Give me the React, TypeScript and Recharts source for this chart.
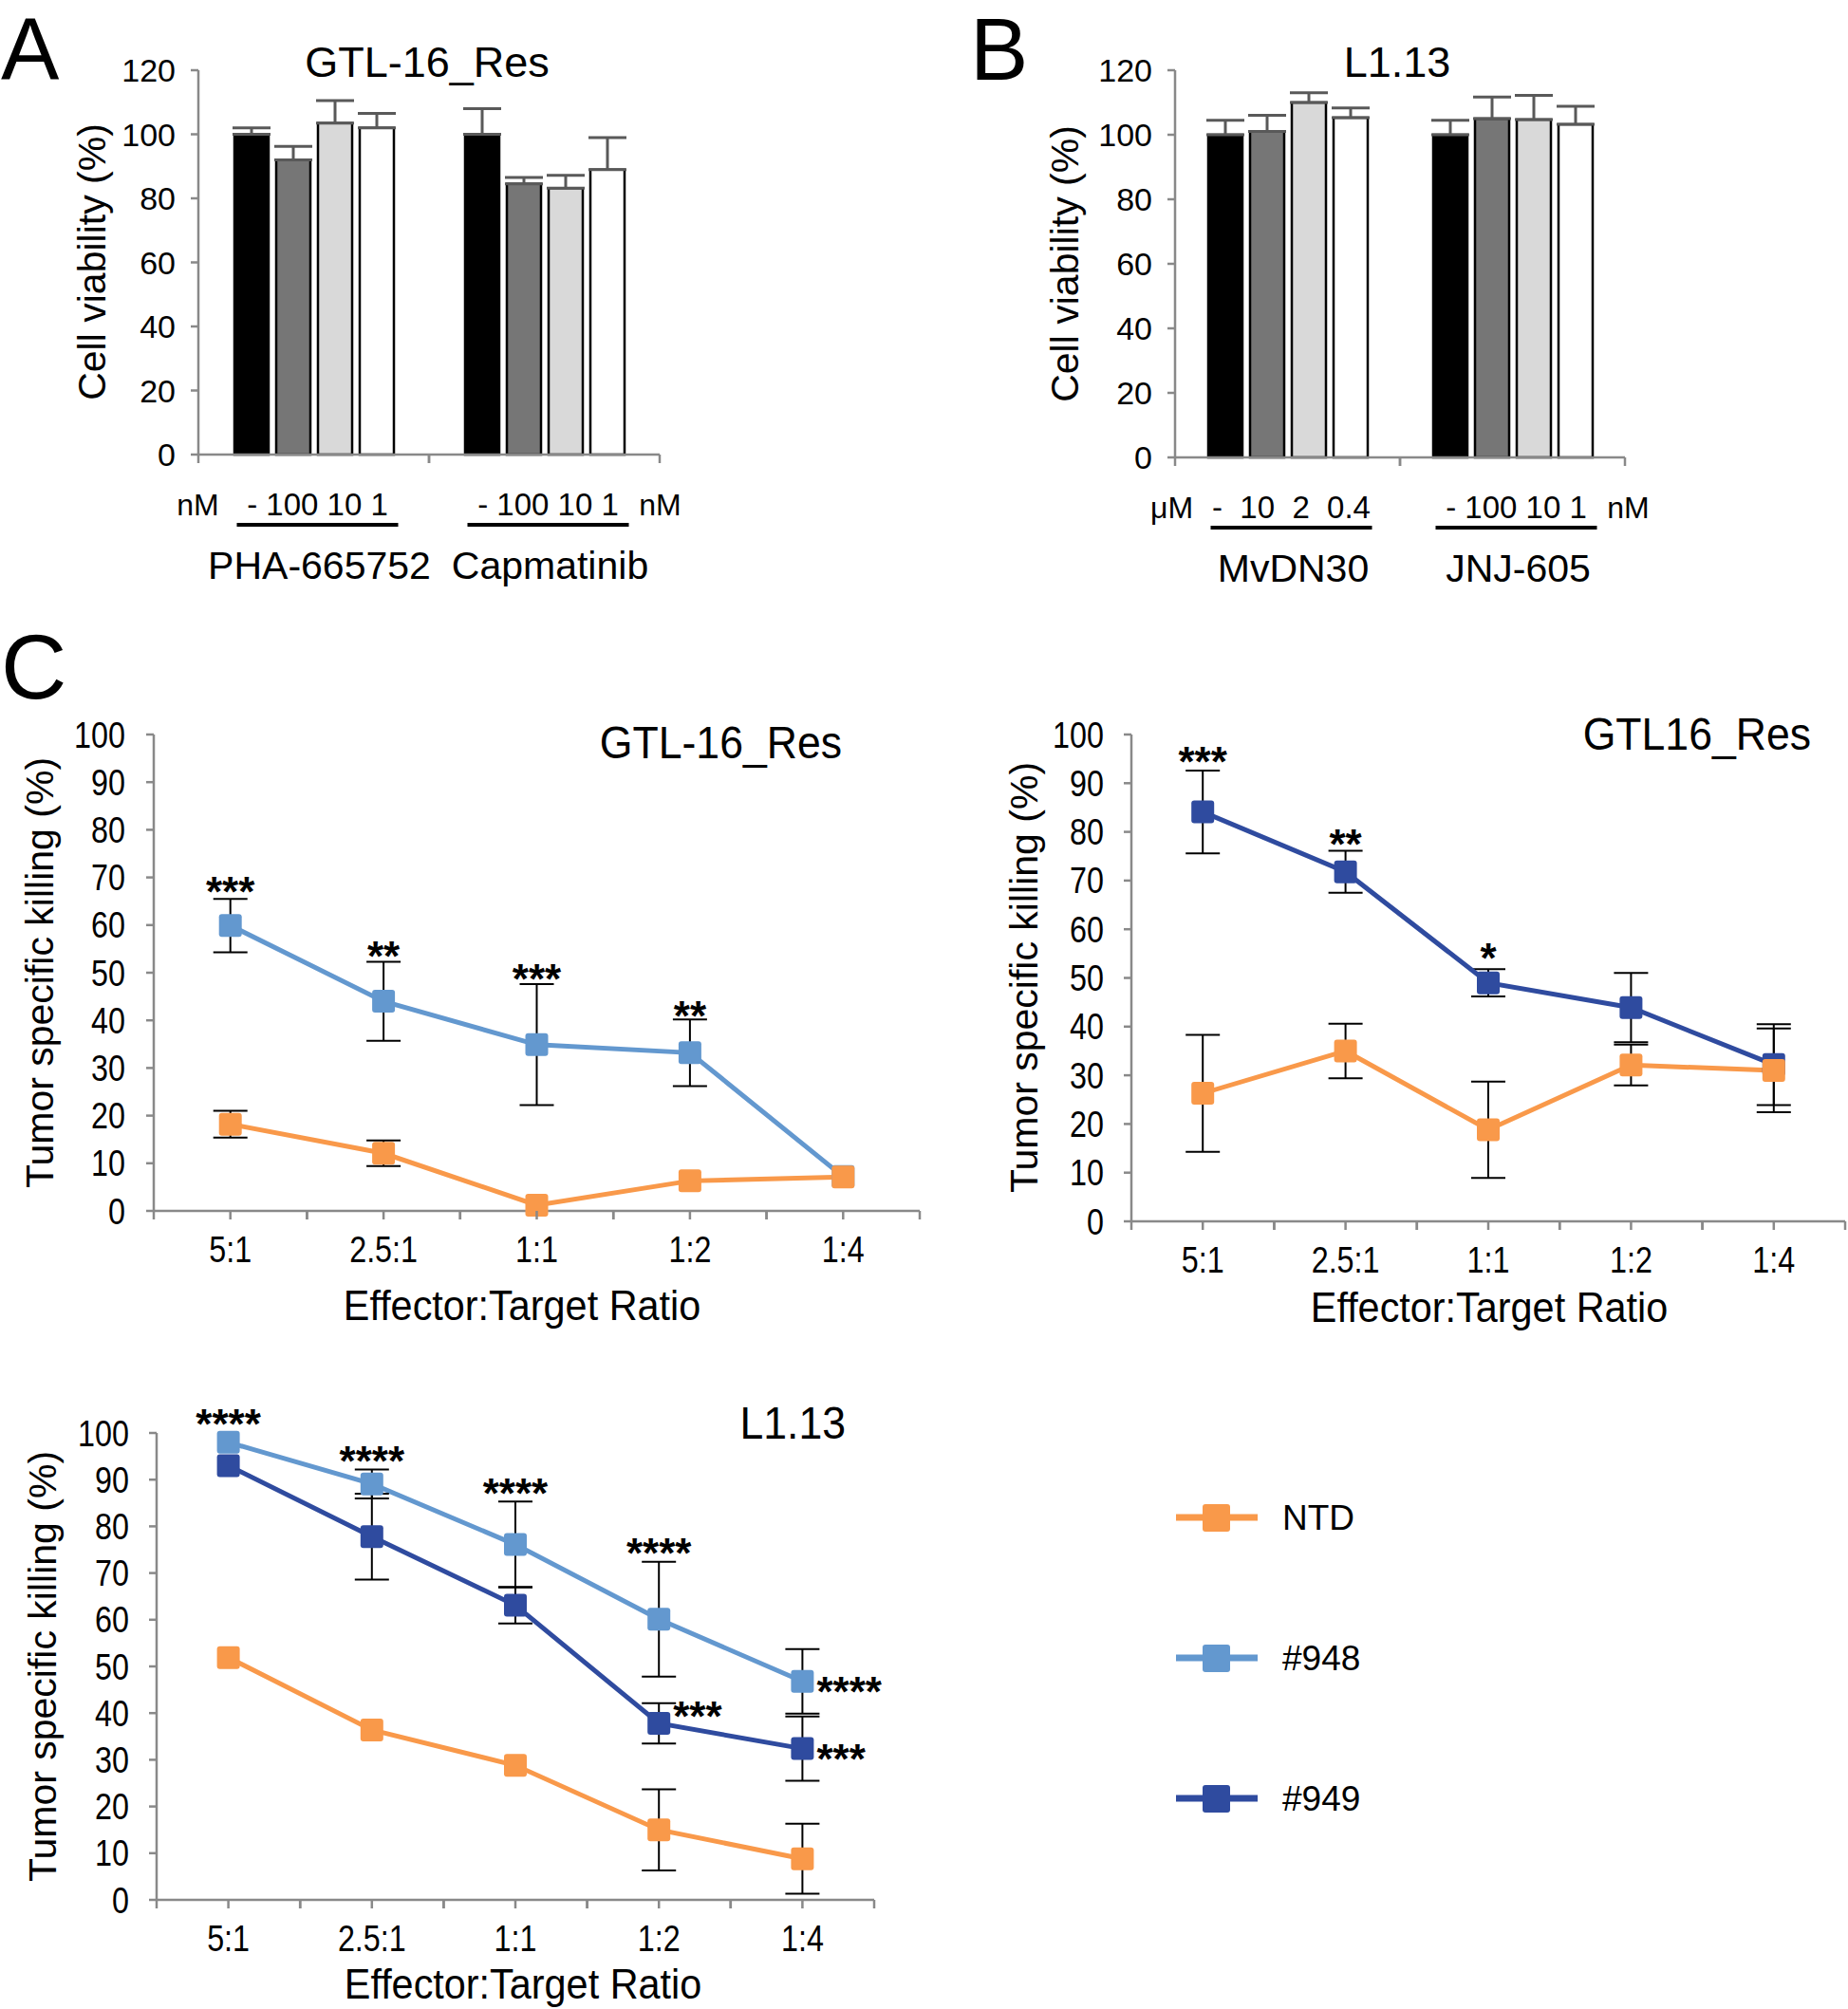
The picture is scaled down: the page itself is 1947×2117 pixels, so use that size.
import React from 'react';
import {
  Bar,
  BarChart,
  ErrorBar,
  Line,
  LineChart,
  ReferenceDot,
  XAxis,
  YAxis,
} from 'recharts';

const SANS = "'Liberation Sans', Arial, sans-serif";
const AXIS_GREY = '#898989';
const ERR_GREY = '#595959';
// the killing panels use a condensed face; squeeze Liberation Sans instead
const SQUEEZE = 0.85;

const NTD_COLOR = '#F9994A';
const CAR948_COLOR = '#6398CF';
const CAR949_COLOR = '#2F4B9F';
const BAR_FILLS = ['#000000', '#767676', '#d9d9d9', '#ffffff'];

// A: GTL-16_Res viability with MET inhibitors
const drugsA = ['PHA-665752', 'Capmatinib'];
const dosesA = ['- 100 10 1', '- 100 10 1'];
const unitsA = ['nM', 'nM'];
const ctrlA = [100, 100];
const highA = [92, 84.5];
const midA = [103.5, 83.2];
const lowA = [102, 89];
const ctrlErrA = [2, 8];
const highErrA = [4.2, 2];
const midErrA = [7, 4];
const lowErrA = [4.5, 10];

// B: L1.13 viability
const drugsB = ['MvDN30', 'JNJ-605'];
const dosesB = ['-  10  2  0.4', '- 100 10 1'];
const unitsB = ['μM', 'nM'];
const ctrlB = [100, 100];
const highB = [101, 105];
const midB = [110, 104.7];
const lowB = [105.3, 103.2];
const ctrlErrB = [4.5, 4.5];
const highErrB = [5, 6.7];
const midErrB = [3, 7.5];
const lowErrB = [3, 5.6];

const viabilityTicks = [0, 20, 40, 60, 80, 100, 120];
const killingTicks = [0, 10, 20, 30, 40, 50, 60, 70, 80, 90, 100];

// C: killing assays
const ratios = ['5:1', '2.5:1', '1:1', '1:2', '1:4'];

const c1Ntd = [18.2, 12.1, 1.2, 6.3, 7.1];
const c1NtdErr = [2.8, 2.7, 0, 0, 0];
const c1Car948 = [59.9, 44, 34.9, 33.2, 7.2];
const c1Car948Err = [5.6, 8.3, 12.7, 7, 0];
const c1Stars = ['***', '**', '***', '**', ''];
const c1StarY = [69, 55.4, 50.6, 42.8, 0];

const c2Ntd = [26.3, 35, 18.8, 32.1, 31];
const c2NtdErr = [12, 5.6, 9.9, 4.2, 8.6];
const c2Car949 = [84.1, 71.8, 49, 43.9, 32.2];
const c2Car949Err = [8.5, 4.3, 2.8, 7.1, 8.3];
const c2Stars = ['***', '**', '*', '', ''];
const c2StarY = [96.2, 79.4, 56, 0, 0];

const c3Ntd = [51.9, 36.4, 28.8, 15, 8.8];
const c3NtdErr = [0, 0, 0, 8.7, 7.5];
const c3Car948 = [98, 89.1, 76.1, 60.1, 46.8];
const c3Car948Err = [0, 3.1, 9.2, 12.3, 6.9];
const c3Car949 = [93, 77.8, 63.1, 37.8, 32.4];
const c3Car949Err = [0, 9.2, 3.9, 4.3, 6.9];
const c3Stars = ['****', '****', '****', '****', ''];
const c3StarY = [103.8, 96, 89, 76.3, 0];
const c3SideRatio = ['1:4', '1:2', '1:4'];
const c3SideY = [46.6, 41.3, 32.1];
const c3SideStars = ['****', '***', '***'];

const legendNames = ['NTD', '#948', '#949'];
const legendColors = [NTD_COLOR, CAR948_COLOR, CAR949_COLOR];

function barRows(drugs: string[], series: number[][], errs: number[][]) {
  return drugs.map((drug, i) => {
    const row: Record<string, any> = { drug };
    series.forEach((s, k) => {
      row[`v${k}`] = s[i];
      row[`e${k}`] = [0, errs[k][i]];
    });
    return row;
  });
}

function lineRows(cols: Record<string, number[]>) {
  return ratios.map((ratio, i) => {
    const row: Record<string, any> = { ratio };
    Object.entries(cols).forEach(([k, v]) => {
      row[k] = v[i];
    });
    return row;
  });
}

const rowsA = barRows(drugsA, [ctrlA, highA, midA, lowA], [ctrlErrA, highErrA, midErrA, lowErrA]);
const rowsB = barRows(drugsB, [ctrlB, highB, midB, lowB], [ctrlErrB, highErrB, midErrB, lowErrB]);
const rowsC1 = lineRows({ ntd: c1Ntd, ntdErr: c1NtdErr, c948: c1Car948, c948Err: c1Car948Err });
const rowsC2 = lineRows({ ntd: c2Ntd, ntdErr: c2NtdErr, c949: c2Car949, c949Err: c2Car949Err });
const rowsC3 = lineRows({
  ntd: c3Ntd,
  ntdErr: c3NtdErr,
  c948: c3Car948,
  c948Err: c3Car948Err,
  c949: c3Car949,
  c949Err: c3Car949Err,
});

function Squeezed({ x, y, size, anchor, children, sx = SQUEEZE }: any) {
  return (
    <text
      transform={`translate(${x},${y}) scale(${sx},1)`}
      fontSize={size}
      fontFamily={SANS}
      textAnchor={anchor}
      fill="#000"
    >
      {children}
    </text>
  );
}

// x-axis label under each drug group: dose row, underline, drug name
const drugTick = (bw: number, doses: string[], units: string[]) => (p: any) => {
  const axisY = p.y - 8;
  const i = p.index;
  const side = i === 0 ? -1 : 1;
  return (
    <g>
      <line x1={p.x - bw / 2} x2={p.x - bw / 2} y1={axisY} y2={axisY + 9} stroke={AXIS_GREY} strokeWidth={2.5} />
      <line x1={p.x + bw / 2} x2={p.x + bw / 2} y1={axisY} y2={axisY + 9} stroke={AXIS_GREY} strokeWidth={2.5} />
      <text x={p.x + side * 122} y={axisY + 64} textAnchor="middle" fontSize={32} fontFamily={SANS} fill="#000">
        {units[i]}
      </text>
      <text x={p.x + 4} y={axisY + 64} textAnchor="middle" fontSize={33} fontFamily={SANS} fill="#000" xmlSpace="preserve">
        {doses[i]}
      </text>
      <line x1={p.x - 81} x2={p.x + 89} y1={axisY + 74} y2={axisY + 74} stroke="#000" strokeWidth={4} />
      <text x={p.x + 6} y={axisY + 131} textAnchor="middle" fontSize={41} fontFamily={SANS} fill="#000">
        {p.payload.value}
      </text>
    </g>
  );
};

const ratioTick = (bw: number) => (p: any) => {
  const axisY = p.y - 8;
  return (
    <g>
      {[-bw / 2, 0, bw / 2].map((d) => (
        <line key={d} x1={p.x + d} x2={p.x + d} y1={axisY} y2={axisY + 9} stroke={AXIS_GREY} strokeWidth={2.5} />
      ))}
      <Squeezed x={p.x} y={axisY + 54} size={38} anchor="middle">
        {p.payload.value}
      </Squeezed>
    </g>
  );
};

const killYTick = (p: any) => (
  <Squeezed x={p.x} y={p.y + 13.5} size={38} anchor="end">
    {p.payload.value}
  </Squeezed>
);

const squareDot = (color: string) => (p: any) => (
  <rect key={`sq-${p.index}`} x={p.cx - 12} y={p.cy - 12} width={24} height={24} rx={3} fill={color} />
);

const starShape = (text: string, anchor: 'middle' | 'start') => (p: any) => (
  <text
    x={anchor === 'start' ? p.cx + 15 : p.cx}
    y={p.cy + 25}
    textAnchor={anchor}
    fontSize={44}
    fontWeight="bold"
    fontFamily={SANS}
    fill="#000"
  >
    {text}
  </text>
);

function topStars(texts: string[], ys: number[]) {
  return texts.map((t, i) =>
    t ? (
      <ReferenceDot key={`st${i}`} x={ratios[i]} y={ys[i]} r={1} ifOverflow="visible" shape={starShape(t, 'middle')} />
    ) : null,
  );
}

function BarPanel({ rows, doses, units, bw, margin }: any) {
  return (
    <BarChart width={620} height={600} data={rows} margin={margin} barSize={36} barGap={8}>
      <XAxis
        dataKey="drug"
        height={150}
        interval={0}
        tickLine={false}
        tickSize={8}
        tickMargin={0}
        axisLine={{ stroke: AXIS_GREY, strokeWidth: 2.5 }}
        tick={drugTick(bw, doses, units)}
      />
      <YAxis
        domain={[0, 120]}
        ticks={viabilityTicks}
        interval={0}
        width={109}
        tickSize={8}
        tickMargin={16}
        axisLine={{ stroke: AXIS_GREY, strokeWidth: 2.5 }}
        tickLine={{ stroke: AXIS_GREY, strokeWidth: 2.5 }}
        tick={{ fontSize: 34, fontFamily: SANS, fill: '#000' }}
      />
      {BAR_FILLS.map((fill, k) => (
        <Bar key={k} dataKey={`v${k}`} fill={fill} stroke="#000" strokeWidth={2.5} isAnimationActive={false}>
          <ErrorBar dataKey={`e${k}`} direction="y" width={20} stroke={ERR_GREY} strokeWidth={3} isAnimationActive={false} />
        </Bar>
      ))}
    </BarChart>
  );
}

function killSeries(key: string, color: string) {
  return (
    <Line
      key={key}
      dataKey={key}
      stroke={color}
      strokeWidth={5}
      dot={squareDot(color)}
      activeDot={false}
      isAnimationActive={false}
    >
      <ErrorBar dataKey={`${key}Err`} direction="y" width={18} stroke="#000" strokeWidth={2} isAnimationActive={false} />
    </Line>
  );
}

function killAxes(bw: number, tickMargin: number) {
  return [
    <XAxis
      key="x"
      dataKey="ratio"
      scale="point"
      padding={{ left: bw / 2, right: bw / 2 }}
      height={70}
      interval={0}
      tickLine={false}
      tickSize={8}
      tickMargin={0}
      axisLine={{ stroke: AXIS_GREY, strokeWidth: 2.5 }}
      tick={ratioTick(bw)}
    />,
    <YAxis
      key="y"
      domain={[0, 100]}
      ticks={killingTicks}
      interval={0}
      width={102}
      tickSize={8}
      tickMargin={tickMargin}
      axisLine={{ stroke: AXIS_GREY, strokeWidth: 2.5 }}
      tickLine={{ stroke: AXIS_GREY, strokeWidth: 2.5 }}
      tick={killYTick}
    />,
  ];
}

const abs = (left: number, top: number): React.CSSProperties => ({ position: 'absolute', left, top });

export default function App() {
  return (
    <div style={{ position: 'absolute', left: 0, top: 0, width: 1947, height: 2117, background: '#fff' }}>
      <div style={abs(100, 40)}>
        <BarPanel rows={rowsA} doses={dosesA} units={unitsA} bw={243} margin={{ top: 34, right: 25, bottom: 11, left: 0 }} />
      </div>
      <div style={abs(1129, 40)}>
        <BarPanel rows={rowsB} doses={dosesB} units={unitsB} bw={237} margin={{ top: 34, right: 37, bottom: 8, left: 0 }} />
      </div>

      <div style={abs(60, 740)}>
        <LineChart width={930} height={620} data={rowsC1} margin={{ top: 34, right: 21, bottom: 14, left: 0 }}>
          {killAxes(161.4, 22)}
          {killSeries('c948', CAR948_COLOR)}
          {killSeries('ntd', NTD_COLOR)}
          {topStars(c1Stars, c1StarY)}
        </LineChart>
      </div>

      <div style={abs(1090, 740)}>
        <LineChart width={870} height={620} data={rowsC2} margin={{ top: 34, right: 16, bottom: 3, left: 0 }}>
          {killAxes(150.4, 21)}
          {killSeries('c949', CAR949_COLOR)}
          {killSeries('ntd', NTD_COLOR)}
          {topStars(c2Stars, c2StarY)}
        </LineChart>
      </div>

      <div style={abs(63, 1476)}>
        <LineChart width={880} height={620} data={rowsC3} margin={{ top: 34, right: 22, bottom: 24, left: 0 }}>
          {killAxes(151.2, 21)}
          {killSeries('ntd', NTD_COLOR)}
          {killSeries('c948', CAR948_COLOR)}
          {killSeries('c949', CAR949_COLOR)}
          {topStars(c3Stars, c3StarY)}
          {c3SideStars.map((t, i) => (
            <ReferenceDot
              key={`side${i}`}
              x={c3SideRatio[i]}
              y={c3SideY[i]}
              r={1}
              ifOverflow="visible"
              shape={starShape(t, 'start')}
            />
          ))}
        </LineChart>
      </div>

      <svg width={1947} height={2117} style={{ position: 'absolute', left: 0, top: 0, pointerEvents: 'none' }}>
        <g fontFamily={SANS} fill="#000">
          <text x={1} y={84} fontSize={92}>A</text>
          <text x={1022} y={84} fontSize={92}>B</text>
          <text x={1} y={736} fontSize={96}>C</text>

          <text x={450} y={81} fontSize={45} textAnchor="middle">GTL-16_Res</text>
          <text x={1472} y={81} fontSize={45} textAnchor="middle">L1.13</text>
          <text transform="translate(111,276) rotate(-90)" fontSize={41} textAnchor="middle">Cell viability (%)</text>
          <text transform="translate(1136,278) rotate(-90)" fontSize={41} textAnchor="middle">Cell viability (%)</text>

          <text transform="translate(56,1025) rotate(-90)" fontSize={41} textAnchor="middle">Tumor specific killing (%)</text>
          <text transform="translate(1093,1030) rotate(-90)" fontSize={41} textAnchor="middle">Tumor specific killing (%)</text>
          <text transform="translate(59,1756) rotate(-90)" fontSize={41} textAnchor="middle">Tumor specific killing (%)</text>
        </g>
        <Squeezed x={887} y={799} size={49} anchor="end" sx={0.91}>GTL-16_Res</Squeezed>
        <Squeezed x={1908} y={790} size={49} anchor="end" sx={0.91}>GTL16_Res</Squeezed>
        <Squeezed x={891} y={1516} size={49} anchor="end" sx={0.91}>L1.13</Squeezed>
        <Squeezed x={550} y={1391} size={45} anchor="middle" sx={0.92}>Effector:Target Ratio</Squeezed>
        <Squeezed x={1569} y={1393} size={45} anchor="middle" sx={0.92}>Effector:Target Ratio</Squeezed>
        <Squeezed x={551} y={2106} size={45} anchor="middle" sx={0.92}>Effector:Target Ratio</Squeezed>
        {legendNames.map((name, i) => {
          const y = 1599 + i * 148;
          return (
            <g key={name}>
              <line x1={1239} x2={1325} y1={y} y2={y} stroke={legendColors[i]} strokeWidth={7} />
              <rect x={1267} y={y - 14} width={29} height={29} rx={3} fill={legendColors[i]} />
              <text x={1351} y={y + 13} fontSize={37} fontFamily={SANS} fill="#000">{name}</text>
            </g>
          );
        })}
      </svg>
    </div>
  );
}
